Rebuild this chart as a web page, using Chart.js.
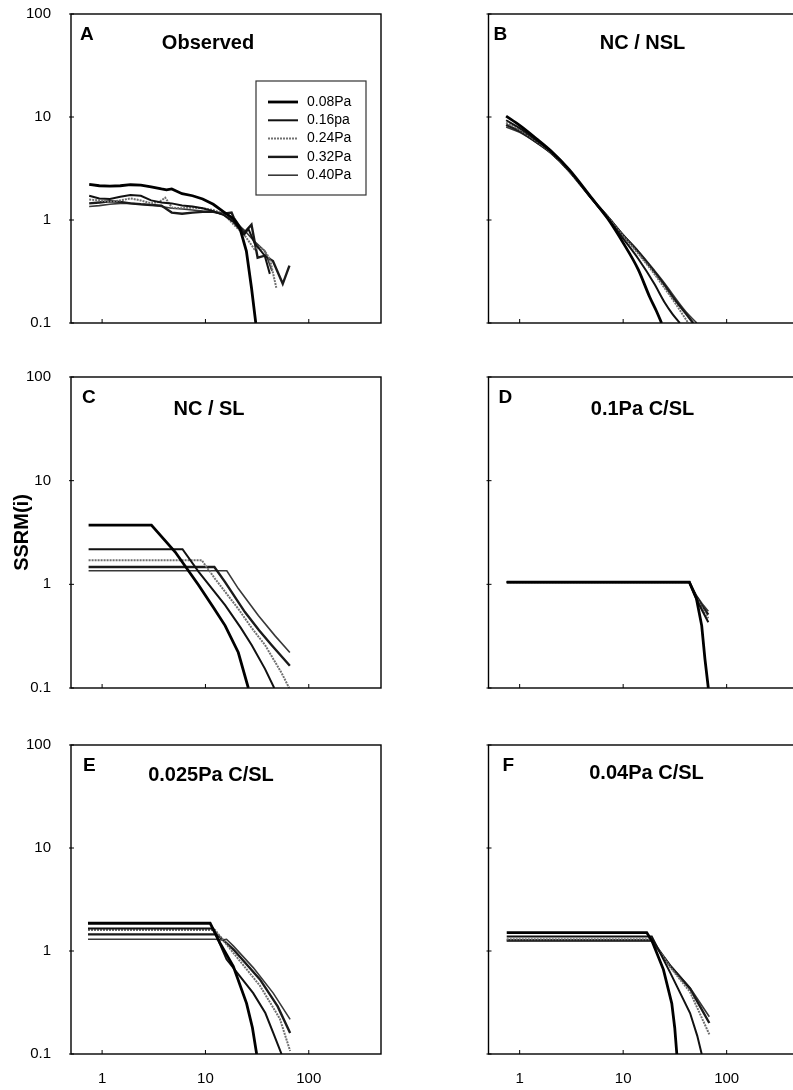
<!DOCTYPE html>
<html>
<head>
<meta charset="utf-8">
<script src="https://cdn.jsdelivr.net/npm/chart.js@4.4.0/dist/chart.umd.min.js"></script>
<style>
html, body { margin: 0; padding: 0; background: #fff; overflow: hidden; width: 793px; height: 1090px; }
canvas { position: absolute; }
</style>
</head>
<body>
<canvas id="pA"></canvas>
<canvas id="pB"></canvas>
<canvas id="pC"></canvas>
<canvas id="pD"></canvas>
<canvas id="pE"></canvas>
<canvas id="pF"></canvas>
<script>
// tick labels
const yTicks = [0.1, 1, 10, 100];
const xTicks = [1, 10, 100];
const seriesNames = ['0.08Pa', '0.16pa', '0.24Pa', '0.32Pa', '0.40Pa'];

// A - observed, [x, SSRM]
const obs008 = [[0.75,2.22],[0.94,2.15],[1.19,2.13],[1.5,2.15],[1.88,2.2],[2.37,2.18],[2.98,2.1],[3.75,2.0],[4.2,1.96],[4.72,2.0],[5.94,1.8],[7.5,1.72],[9.4,1.6],[11.9,1.42],[15,1.2],[18.8,1.02],[21.5,0.84],[24.9,0.5],[27.9,0.22],[30.7,0.1]];
const obs016 = [[0.75,1.72],[0.94,1.62],[1.19,1.6],[1.5,1.68],[1.88,1.75],[2.37,1.72],[2.98,1.55],[3.75,1.48],[4.72,1.45],[5.94,1.38],[7.5,1.35],[9.4,1.3],[11.9,1.22],[15,1.12],[18.8,0.95],[23.7,0.72],[26,0.82],[29.8,0.6],[37.5,0.45],[42,0.3]];
const obs024 = [[0.75,1.58],[0.94,1.55],[1.19,1.5],[1.5,1.55],[1.88,1.62],[2.37,1.55],[2.98,1.45],[3.6,1.5],[4.08,1.65],[4.72,1.32],[5.94,1.3],[7.5,1.32],[9.4,1.3],[11.9,1.25],[15,1.15],[18.8,0.9],[23.7,0.72],[29.8,0.52],[33,0.55],[37.5,0.5],[42,0.42],[48.5,0.22]];
const obs032 = [[0.75,1.45],[0.94,1.48],[1.19,1.52],[1.5,1.5],[1.88,1.45],[2.37,1.42],[2.98,1.4],[3.75,1.38],[4.72,1.18],[5.94,1.15],[7.5,1.18],[9.4,1.2],[11.9,1.2],[15,1.15],[17.9,1.18],[18.8,1.05],[23.7,0.75],[27.9,0.9],[32,0.43],[37.5,0.45],[45,0.4],[56,0.24],[65,0.36]];
const obs040 = [[0.75,1.35],[0.94,1.38],[1.19,1.42],[1.5,1.45],[1.88,1.45],[2.37,1.42],[2.98,1.4],[3.75,1.35],[4.72,1.3],[5.94,1.28],[7.5,1.25],[9.4,1.22],[11.9,1.2],[15,1.12],[18.8,0.98],[23.7,0.8],[29.8,0.62],[37.5,0.5],[44,0.32]];

// B - NC / NSL
const nsl008 = [[0.74,10.2],[1,8.3],[1.5,6.0],[2,4.7],[3,3.1],[5,1.62],[7,1.05],[10,0.6],[14,0.33],[18,0.18],[21,0.13],[23.5,0.1]];
const nsl016 = [[0.74,9.3],[1,7.8],[1.5,5.8],[2,4.6],[3,3.05],[5,1.6],[7,1.06],[10,0.66],[14,0.42],[20,0.24],[25,0.16],[30,0.122],[35.3,0.1]];
const nsl024 = [[0.74,8.8],[1,7.5],[1.5,5.7],[2,4.55],[3,3.0],[5,1.6],[7,1.08],[10,0.7],[14,0.47],[20,0.3],[25,0.22],[30,0.17],[35,0.135],[42.5,0.1]];
const nsl032 = [[0.74,8.4],[1,7.3],[1.5,5.6],[2,4.5],[3,3.0],[5,1.6],[7,1.09],[10,0.71],[14,0.49],[20,0.315],[25,0.235],[30,0.18],[40,0.125],[47.5,0.1]];
const nsl040 = [[0.74,8.0],[1,7.1],[1.5,5.5],[2,4.45],[3,2.98],[5,1.6],[7,1.1],[10,0.72],[14,0.5],[20,0.325],[25,0.245],[30,0.19],[40,0.13],[51.5,0.1]];

// C - NC / SL
const sl008 = [[0.74,3.72],[3.0,3.72],[5.1,2.05],[8.6,0.98],[11.9,0.6],[15.5,0.4],[20.8,0.22],[26,0.1]];
const sl016 = [[0.74,2.18],[6.0,2.18],[8.6,1.32],[15.5,0.63],[22,0.38],[28,0.26],[37.7,0.153],[46.3,0.1]];
const sl024 = [[0.74,1.71],[9.2,1.71],[12.4,1.13],[20.8,0.58],[28,0.38],[37.7,0.26],[54.5,0.14],[64.6,0.1]];
const sl032 = [[0.74,1.47],[12.2,1.47],[15.5,1.05],[24.1,0.54],[33,0.36],[43.6,0.26],[65.6,0.164]];
const sl040 = [[0.74,1.35],[16.1,1.35],[20.8,0.91],[32.5,0.5],[47,0.32],[65.6,0.22]];

// D - 0.1Pa C/SL
const c10008 = [[0.75,1.05],[43.6,1.05],[51,0.73],[57.4,0.4],[61.7,0.19],[66.5,0.1]];
const c10016 = [[0.75,1.05],[43.6,1.05],[51,0.72],[58,0.56],[66.5,0.43]];
const c10024 = [[0.75,1.05],[43.6,1.05],[51,0.74],[58,0.59],[66.5,0.47]];
const c10032 = [[0.75,1.05],[43.6,1.05],[51,0.76],[58,0.62],[66.5,0.51]];
const c10040 = [[0.75,1.05],[43.6,1.05],[51,0.78],[58,0.65],[66.5,0.55]];

// E - 0.025Pa C/SL
const c025008 = [[0.73,1.86],[11.1,1.86],[13.8,1.2],[18.6,0.71],[25,0.31],[28.5,0.18],[31.3,0.1]];
const c025016 = [[0.73,1.65],[11.9,1.65],[16,0.83],[29,0.39],[38,0.25],[45.3,0.16],[54.5,0.1]];
const c025024 = [[0.73,1.6],[12.4,1.6],[18.6,0.96],[33.7,0.46],[52.5,0.22],[66,0.107]];
const c025032 = [[0.73,1.45],[12.9,1.45],[18.6,1.04],[33.7,0.53],[50,0.29],[66,0.16]];
const c025040 = [[0.73,1.3],[12.4,1.3],[14.5,1.28],[16,1.3],[18.6,1.12],[29,0.69],[45.3,0.39],[66,0.217]];

// F - 0.04Pa C/SL
const c04008 = [[0.75,1.51],[16.9,1.51],[19,1.25],[24.5,0.66],[29.5,0.31],[31.5,0.18],[33,0.1]];
const c04016 = [[0.75,1.38],[18.9,1.38],[28.4,0.62],[44.3,0.25],[52,0.15],[57.4,0.1]];
const c04024 = [[0.75,1.30],[18.9,1.30],[28.4,0.70],[44.3,0.40],[68,0.155]];
const c04032 = [[0.75,1.27],[18.9,1.27],[28.4,0.72],[44.3,0.43],[68,0.2]];
const c04040 = [[0.75,1.25],[18.9,1.25],[28.4,0.73],[44.3,0.44],[68,0.23]];

// line look per series
const lineColors = ['#000000', '#111111', '#707070', '#1a1a1a', '#383838'];
const lineWidths = [2.8, 2, 2, 2.4, 1.6];
const lineDash = [[], [], [2, 1], [], []];

const FONT = '"Liberation Sans", Arial, sans-serif';
Chart.defaults.font.family = FONT;
Chart.defaults.color = '#000';

// plot box positions on the page
const colLeft = [0, 418];
const colAxis = [71, 70.5];
const rowTop = [14, 377, 745];
const rowBottom = [323, 688, 1054];

// frame, inward ticks, panel letter, title and legend
const framePlugin = {
    id: 'frame',
    afterDatasetsDraw(chart, args, opts) {
        const ctx = chart.ctx;
        const a = chart.chartArea;
        const sx = chart.scales.x, sy = chart.scales.y;
        ctx.save();
        ctx.strokeStyle = '#000';
        ctx.setLineDash([]);
        ctx.lineWidth = 1.4;
        ctx.strokeRect(a.left, a.top, a.right - a.left, a.bottom - a.top);
        ctx.lineWidth = 1;
        ctx.beginPath();
        xTicks.forEach(v => {
            const px = sx.getPixelForValue(v);
            ctx.moveTo(px, a.bottom);
            ctx.lineTo(px, a.bottom - 4);
        });
        yTicks.forEach(v => {
            const py = sy.getPixelForValue(v);
            ctx.moveTo(a.left - 2, py);
            ctx.lineTo(a.left + 3, py);
        });
        ctx.stroke();

        ctx.fillStyle = '#000';
        ctx.textBaseline = 'alphabetic';
        ctx.textAlign = 'left';
        ctx.font = 'bold 19px ' + FONT;
        ctx.fillText(opts.letter, a.left + opts.letterDx, a.top + 26);
        ctx.textAlign = 'center';
        ctx.font = 'bold 20px ' + FONT;
        ctx.fillText(opts.title, a.left + opts.titleDx, a.top + opts.titleDy);

        if (opts.legend) {
            const bx = a.left + 185, by = a.top + 67;
            ctx.lineWidth = 1.2;
            ctx.strokeStyle = '#333';
            ctx.strokeRect(bx, by, 110, 114);
            ctx.font = '14px ' + FONT;
            ctx.textAlign = 'left';
            ctx.textBaseline = 'middle';
            chart.data.datasets.forEach((ds, i) => {
                const ly = by + 21 + i * 18.3;
                ctx.strokeStyle = ds.borderColor;
                ctx.lineWidth = ds.borderWidth;
                ctx.setLineDash(ds.borderDash);
                ctx.beginPath();
                ctx.moveTo(bx + 12, ly);
                ctx.lineTo(bx + 42, ly);
                ctx.stroke();
                ctx.setLineDash([]);
                ctx.fillText(ds.label, bx + 51, ly);
            });
        }
        ctx.restore();
    }
};

const panels = [
    { id: 'pA', col: 0, row: 0, letter: 'A', letterDx: 9, title: 'Observed', titleDx: 137, titleDy: 35, legend: true, smooth: false,
      series: [obs008, obs016, obs024, obs032, obs040] },
    { id: 'pB', col: 1, row: 0, letter: 'B', letterDx: 5, title: 'NC / NSL', titleDx: 154, titleDy: 35, smooth: true,
      series: [nsl008, nsl016, nsl024, nsl032, nsl040] },
    { id: 'pC', col: 0, row: 1, letter: 'C', letterDx: 11, title: 'NC / SL', titleDx: 138, titleDy: 38, smooth: false, yTitle: 'SSRM(i)',
      series: [sl008, sl016, sl024, sl032, sl040] },
    { id: 'pD', col: 1, row: 1, letter: 'D', letterDx: 10, title: '0.1Pa C/SL', titleDx: 154, titleDy: 38, smooth: false,
      series: [c10008, c10016, c10024, c10032, c10040] },
    { id: 'pE', col: 0, row: 2, letter: 'E', letterDx: 12, title: '0.025Pa C/SL', titleDx: 140, titleDy: 36, smooth: false,
      series: [c025008, c025016, c025024, c025032, c025040] },
    { id: 'pF', col: 1, row: 2, letter: 'F', letterDx: 14, title: '0.04Pa C/SL', titleDx: 158, titleDy: 34, smooth: false,
      series: [c04008, c04016, c04024, c04032, c04040] }
];

panels.forEach(p => {
    const xh = p.row === 2 ? 36 : 20;
    const h = rowBottom[p.row] - rowTop[p.row] + 14 + xh;
    const cv = document.getElementById(p.id);
    cv.width = 400;
    cv.height = h;
    cv.style.left = colLeft[p.col] + 'px';
    cv.style.top = (rowTop[p.row] - 14) + 'px';

    new Chart(cv.getContext('2d'), {
        type: 'line',
        data: {
            datasets: p.series.map((pts, i) => ({
                label: seriesNames[i],
                data: pts.map(q => ({ x: q[0], y: q[1] })),
                borderColor: lineColors[i],
                borderWidth: lineWidths[i],
                borderDash: lineDash[i],
                pointRadius: 0,
                fill: false,
                tension: 0,
                cubicInterpolationMode: p.smooth ? 'monotone' : 'default'
            }))
        },
        options: {
            responsive: false,
            animation: false,
            layout: { padding: { top: 14, right: 19, bottom: 0, left: 0 } },
            plugins: {
                legend: { display: false },
                tooltip: { enabled: false },
                frame: { letter: p.letter, letterDx: p.letterDx, title: p.title, titleDx: p.titleDx, titleDy: p.titleDy, legend: !!p.legend }
            },
            scales: {
                x: {
                    type: 'logarithmic',
                    min: 0.5,
                    max: 500,
                    afterBuildTicks: s => { s.ticks = xTicks.map(v => ({ value: v })); },
                    afterFit: s => { s.height = xh; s.paddingLeft = 0; s.paddingRight = 0; },
                    grid: { display: false },
                    border: { display: false },
                    ticks: {
                        display: p.row === 2,
                        autoSkip: false,
                        maxRotation: 0,
                        padding: 8,
                        font: { size: 15 },
                        callback: v => String(v)
                    }
                },
                y: {
                    type: 'logarithmic',
                    min: 0.1,
                    max: 100,
                    afterBuildTicks: s => { s.ticks = yTicks.map(v => ({ value: v })); },
                    afterFit: s => { s.width = colAxis[p.col]; s.paddingTop = 0; s.paddingBottom = 0; },
                    grid: { display: false },
                    border: { display: false },
                    title: {
                        display: !!p.yTitle,
                        text: p.yTitle || '',
                        font: { size: 20, weight: 'bold' },
                        padding: { top: 10, bottom: 0 }
                    },
                    ticks: {
                        display: p.col === 0,
                        autoSkip: false,
                        padding: 12,
                        font: { size: 15 },
                        callback: v => String(v)
                    }
                }
            }
        },
        plugins: [framePlugin]
    });
});
</script>
</body>
</html>
